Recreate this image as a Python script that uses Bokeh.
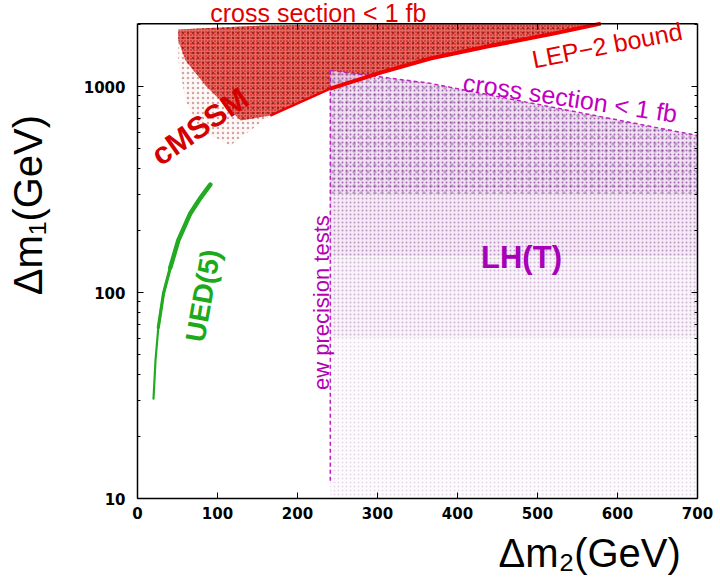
import numpy as np
from bokeh.plotting import figure
from bokeh.models import Range1d, LogAxis, FixedTicker, Label, Span
from bokeh.embed import file_html
from bokeh.resources import INLINE

# ---------------- data ----------------
x_ticks = [0, 100, 200, 300, 400, 500, 600, 700]
y_ticks = [10, 100, 1000]
y_tick_labels = ["10", "100", "1000"]
y_minor = [20, 30, 40, 50, 60, 70, 80, 90,
           200, 300, 400, 500, 600, 700, 800, 900, 2000]
box_bottom, box_top = 10, 2020          # plot box (y), x box is 0..700

# LEP-2 bound: lower edge of the cMSSM band
lep_x = [166, 241, 304, 366, 437, 520, 579]
lep_y = [723, 977, 1169, 1368, 1563, 1807, 2020]
# cMSSM dense region: upper edge and left edge
cmssm_top_x = [51, 154, 300, 600]
cmssm_top_y = [1890, 1977, 2020, 2020]
cmssm_left_x = [129, 85, 60, 51]
cmssm_left_y = [684, 1012, 1337, 1670]
# cMSSM sparse fringe (lower left)
fringe_x = [51, 60, 85, 129, 166, 116, 79, 60, 51]
fringe_y = [1670, 1337, 1012, 684, 723, 517, 611, 855, 1337]

# LH(T) region: "cross section < 1 fb" edge and ew precision edge
lh_top_x = [241, 366, 700]
lh_top_y = [1197, 1036, 578]
lh_left_x = 241
lh_bottom_y = 12.2
lh_band_y = [300, 150, 60, 10]      # density bands, dense -> sparse

# UED(5) curve
ued_x = [20, 22.5, 26, 32.5, 41, 51, 66, 79, 91]
ued_y = [30.5, 46.8, 67.6, 98.9, 132, 179, 242, 289, 334]

# ---------------- figure ----------------
# frame reaches above the plot box so the top caption can sit there
p = figure(width=720, height=580, x_range=Range1d(0, 700), y_range=Range1d(10, 2616),
           y_axis_type="log", output_backend="svg", toolbar_location=None,
           min_border_left=137, min_border_right=23, min_border_top=0,
           min_border_bottom=82, background_fill_color="white")
p.grid.visible = False
p.outline_line_color = None

# cMSSM fringe
p.patch(fringe_x, fringe_y, fill_color="#fef8f7", line_color=None,
        hatch_pattern="dot", hatch_color="#9a4040", hatch_scale=5, hatch_alpha=0.45)
# cMSSM dense region
cm_x = cmssm_top_x + lep_x[::-1] + cmssm_left_x
cm_y = cmssm_top_y + lep_y[::-1] + cmssm_left_y
p.patch(cm_x, cm_y, fill_color="#e56b62", line_color=None,
        hatch_pattern="dot", hatch_color="#d40000", hatch_scale=3)
p.patch(cm_x, cm_y, fill_alpha=0, line_color=None,
        hatch_pattern="dot", hatch_color="#7a1515", hatch_scale=5, hatch_alpha=0.7)

# LH(T) bands
xr = lh_top_x[-1]
band1_x = lh_top_x + [xr, lh_left_x]
band1_y = lh_top_y + [lh_band_y[0], lh_band_y[0]]
p.patch(band1_x, band1_y, fill_color="#f0dcf3", fill_alpha=0.85, line_color=None,
        hatch_pattern="dot", hatch_color="#7d3590", hatch_scale=4, hatch_alpha=0.7)
p.patch(band1_x, band1_y, fill_alpha=0, line_color=None,
        hatch_pattern="dot", hatch_color="#5a2a66", hatch_scale=7, hatch_alpha=0.35)
band_x = [lh_left_x, xr, xr, lh_left_x]
band_fill = ["#f6eaf8", "#faf3fb", "#fefcfe"]
band_alpha = [0.55, 0.38, 0.2]
for i in range(3):
    hi, lo = lh_band_y[i], lh_band_y[i + 1]
    p.patch(band_x, [hi, hi, lo, lo], fill_color=band_fill[i], line_color=None,
            hatch_pattern="dot", hatch_color="#86508f", hatch_scale=4,
            hatch_alpha=band_alpha[i])

# LH(T) boundaries
p.line(lh_top_x, lh_top_y, line_color="#c020c0", line_width=1.5, line_dash="4 3")
p.line([lh_left_x, lh_left_x], [lh_bottom_y, lh_top_y[0]], line_color="#c020c0",
       line_width=1.5, line_dash="4 3")

# LEP-2 bound line: thin at its start, thick further right
p.line(lep_x, lep_y, line_color="#f00000", line_width=2.5)
p.line(lep_x[1:], lep_y[1:], line_color="#f00000", line_width=4)

# UED(5): thin at the bottom, thicker at the top
p.line(ued_x, ued_y, line_color="#22aa22", line_width=2.2, line_cap="round")
p.line(ued_x[2:], ued_y[2:], line_color="#22aa22", line_width=3.2, line_cap="round")
p.line(ued_x[4:], ued_y[4:], line_color="#22aa22", line_width=4.5, line_cap="round")

# ---------------- plot box & axes ----------------
p.add_layout(Span(location=box_top, dimension="width", line_color="black",
                  line_width=1.5))
tick_end = box_top * 10 ** (-6 / 206)   # 6px inward tick on the top edge
p.segment(x0=x_ticks[1:-1], y0=[box_top] * 6, x1=x_ticks[1:-1], y1=[tick_end] * 6,
          line_color="black", line_width=1)

def style_axis(ax):
    ax.axis_line_color = "black"
    ax.axis_line_width = 1.5
    ax.major_tick_in = 6
    ax.major_tick_out = 0
    ax.minor_tick_in = 3
    ax.minor_tick_out = 0
    ax.major_tick_line_color = "black"
    ax.minor_tick_line_color = "black"
    ax.major_label_text_font = "DejaVu Sans"
    ax.major_label_text_font_style = "bold"
    ax.major_label_text_font_size = "15px"
    ax.major_label_text_color = "black"
    ax.axis_label_text_font = "Liberation Sans"
    ax.axis_label_text_font_style = "normal"
    ax.axis_label_text_font_size = "40px"
    ax.axis_label_text_color = "black"

p.xaxis.ticker = FixedTicker(ticks=x_ticks, minor_ticks=[])
p.yaxis.ticker = FixedTicker(ticks=y_ticks, minor_ticks=y_minor)
p.yaxis.major_label_overrides = dict(zip(y_ticks, y_tick_labels))
style_axis(p.xaxis[0])
style_axis(p.yaxis[0])
p.yaxis.bounds = (box_bottom, box_top)
p.xaxis.major_label_standoff = 8
p.yaxis.major_label_standoff = 12

NB = "\u00a0"
p.xaxis.axis_label = NB * 31 + "\u0394m\u2082(GeV)"
p.xaxis.axis_label_standoff = 9
p.yaxis.axis_label = NB * 8 + "\u0394m\u2081(GeV)"
p.yaxis.axis_label_standoff = 31

right = LogAxis(ticker=FixedTicker(ticks=y_ticks, minor_ticks=y_minor),
                bounds=(box_bottom, box_top))
style_axis(right)
right.major_label_text_font_size = "6px"
right.major_label_text_color = None
right.major_label_standoff = 0
right.major_label_overrides = {t: " " for t in y_ticks}
p.add_layout(right, "right")

# ---------------- texts ----------------
def lab(x, y, text, size, color, angle=0.0, bold=False, align="center",
        baseline="middle"):
    p.add_layout(Label(x=x, y=y, text=text, text_font="Liberation Sans",
                       text_font_size=f"{size}px", text_color=color,
                       text_font_style="bold" if bold else "normal",
                       angle=float(np.deg2rad(angle)), text_align=align,
                       text_baseline=baseline))

lab(226, 2275, "cross section < 1 fb", 25, "#e00000")
lab(587, 1590, "LEP\u22122 bound", 25, "#e00000", angle=11)
lab(541, 880, "cross section < 1 fb", 25, "#c000c0", angle=-8.5)
lab(78, 640, "cMSSM", 31, "#d40000", angle=35, bold=True)
lab(82, 96.6, "UED(5)", 28, "#1aaa1a", angle=80, bold=True)
lab(230, 89.3, "ew precision tests", 22, "#b400b4", angle=90)
lab(480, 148, "LH(T)", 31, "#a800b8", bold=True)

open("out.html", "w").write(file_html(p, INLINE))
